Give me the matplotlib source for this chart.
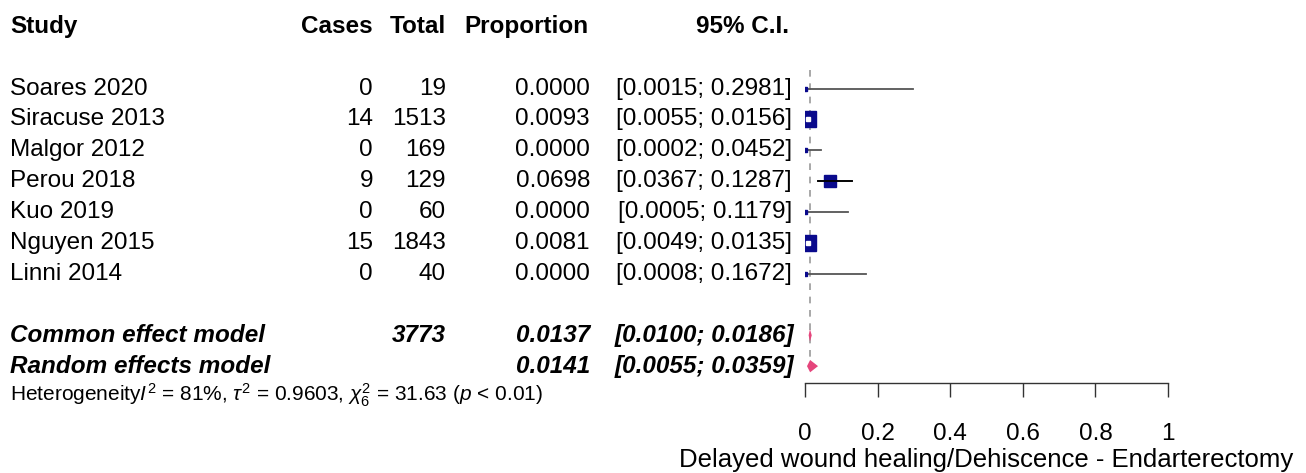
import numpy as np
import matplotlib.pyplot as plt

plt.rcParams['font.family'] = ['Liberation Sans', 'DejaVu Sans']
plt.rcParams['mathtext.fontset'] = 'custom'
plt.rcParams['mathtext.rm'] = 'Liberation Sans'
plt.rcParams['mathtext.it'] = 'Liberation Sans:italic'

# data
studies = ["Soares 2020", "Siracuse 2013", "Malgor 2012", "Perou 2018",
           "Kuo 2019", "Nguyen 2015", "Linni 2014"]
cases = [0, 14, 0, 9, 0, 15, 0]
totals = [19, 1513, 169, 129, 60, 1843, 40]
props = [0.0000, 0.0093, 0.0000, 0.0698, 0.0000, 0.0081, 0.0000]
lower = [0.0015, 0.0055, 0.0002, 0.0367, 0.0005, 0.0049, 0.0008]
upper = [0.2981, 0.0156, 0.0452, 0.1287, 0.1179, 0.0135, 0.1672]
weights = [1.3, 36.0, 1.3, 22.0, 1.3, 38.0, 1.3]  # approx. % weight -> box size

models = ["Common effect model", "Random effects model"]
model_total = ["3773", ""]
model_est = [0.0137, 0.0141]
model_lo = [0.0100, 0.0055]
model_hi = [0.0186, 0.0359]
het_text = (r"Heterogeneity$I^2$ = 81%, $\tau^2$ = 0.9603, "
            r"$\chi^2_6$ = 31.63 ($p$ < 0.01)")
xticks = [0, 0.2, 0.4, 0.6, 0.8, 1]
xlabel = "Delayed wound healing/Dehiscence - Endarterectomy"

W, H = 1306, 473
row0, step = 27, 30.83          # pixel y of row 0 and row spacing
ylim = ((H - row0) / step, -row0 / step)

fig = plt.figure(figsize=(W / 100, H / 100), dpi=100)

# text columns, x in pixels, y in rows
tx = fig.add_axes([0, 0, 1, 1])
tx.set_xlim(0, W)
tx.set_ylim(*ylim)
tx.axis('off')

fs = 17.5
hdr = dict(fontsize=fs, fontweight='bold', va='center')
tx.text(10, 0, "Study", ha='left', **hdr)
tx.text(373, 0, "Cases", ha='right', **hdr)
tx.text(446, 0, "Total", ha='right', **hdr)
tx.text(589, 0, "Proportion", ha='right', **hdr)
tx.text(743, 0, "95% C.I.", ha='center', **hdr)

study_rows = np.arange(len(studies)) + 2
for r, name, c, n, p, lo, hi in zip(study_rows, studies, cases, totals, props, lower, upper):
    tx.text(10, r, name, ha='left', va='center', fontsize=fs)
    tx.text(373, r, str(c), ha='right', va='center', fontsize=fs)
    tx.text(446, r, str(n), ha='right', va='center', fontsize=fs)
    tx.text(590, r, f"{p:.4f}", ha='right', va='center', fontsize=fs)
    tx.text(792, r, f"[{lo:.4f}; {hi:.4f}]", ha='right', va='center', fontsize=fs)

model_rows = [study_rows[-1] + 2, study_rows[-1] + 3]
bi = dict(fontsize=fs, fontweight='bold', fontstyle='italic', va='center')
for r, name, n, e, lo, hi in zip(model_rows, models, model_total, model_est, model_lo, model_hi):
    tx.text(10, r, name, ha='left', **bi)
    tx.text(446, r, n, ha='right', **bi)
    tx.text(590, r, f"{e:.4f}", ha='right', **bi)
    tx.text(794, r, f"[{lo:.4f}; {hi:.4f}]", ha='right', **bi)

tx.text(10, model_rows[-1] + 0.95, het_text, ha='left', va='center', fontsize=15)

# forest panel, x in proportion units
x0, x1 = 805, 1168
ax = fig.add_axes([x0 / W, 0, (x1 - x0) / W, 1])
ax.set_xlim(0, 1)
ax.set_ylim(*ylim)
ax.patch.set_alpha(0)
for s in ['top', 'left', 'right']:
    ax.spines[s].set_visible(False)
ax.spines['bottom'].set_position(('data', model_rows[-1] + 0.55))
ax.spines['bottom'].set_linewidth(1.0)
ax.spines['bottom'].set_color('#333333')
ax.set_yticks([])
ax.set_xticks(xticks)
ax.set_xticklabels([f"{t:g}" for t in xticks])
ax.tick_params(axis='x', direction='out', length=10, width=1.0, color='#333333',
               labelsize=fs, pad=19)
ax.set_xlabel(xlabel, fontsize=18.5, labelpad=2)

# reference line at common effect estimate
ax.plot([model_est[0]] * 2, [1.4, model_rows[-1] + 0.3], ls=(0, (4, 4)),
        color='#999999', lw=1.2, zorder=1)

navy = '#0A0A8C'
wmax = max(weights)
for r, p, lo, hi, w in zip(study_rows, props, lower, upper, weights):
    size = 12 * np.sqrt(w / wmax)
    box = size / 72 * 100 / (x1 - x0)          # box width in data units
    inside = (hi - lo) < box
    ax.plot([lo, hi], [r, r], color='#555555', lw=1.3, zorder=2)
    ax.plot(p, r, marker='s', ms=max(size, 3), color=navy, mec=navy, zorder=3)
    if inside:
        ax.plot(p, r, marker='s', ms=2.2, color='white', mec='white', zorder=4)
    elif w > 5:
        ax.plot([lo, hi], [r, r], color='black', lw=1.3, zorder=4)

pink = '#E5457C'
for r, e, lo, hi in zip(model_rows, model_est, model_lo, model_hi):
    ax.fill([lo, e, hi, e], [r, r - 0.2, r, r + 0.2], color=pink, zorder=3, lw=0)

fig.savefig("out.png", dpi=100)
